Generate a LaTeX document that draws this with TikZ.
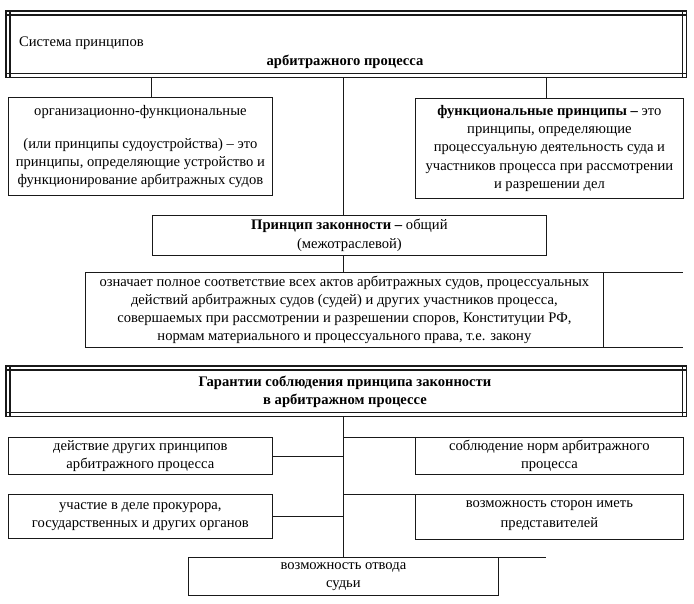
\documentclass[tikz,border=0pt]{standalone}
\usepackage{fontspec}
\setmainfont{Liberation Serif}
\usetikzlibrary{positioning}
\colorlet{InkLine}{black!90}
\colorlet{InkText}{black}
\newcommand{\dblframe}[1]{%
  \draw[outer] (#1.north west) rectangle (#1.south east);
  \draw[inner] ([yshift=-4pt]#1.north west) -- ([yshift=-4pt]#1.north east)
    ([yshift=4pt]#1.south west) -- ([yshift=4pt]#1.south east)
    ([xshift=4pt]#1.north west) -- ([xshift=4pt]#1.south west)
    ([xshift=-4pt]#1.north east) -- ([xshift=-4pt]#1.south east);}
\begin{document}
\begin{tikzpicture}[x=1pt,y=-1pt,
    every node/.style={font=\fontsize{14.6}{18.2}\selectfont,text=InkText},
    box/.style={draw=InkLine,line width=0.8pt,inner sep=0pt,align=center,anchor=north west},
    plain/.style={inner sep=0pt,anchor=north west},
    outer/.style={draw=InkLine,line width=1.7pt},
    inner/.style={draw=InkLine,line width=1.1pt},
    ln/.style={draw=InkLine,line width=0.8pt}
  ]
  \useasboundingbox[fill=white] (0,0) rectangle (694,603);
  \coordinate (c1) at (151,0);
  \coordinate (c2) at (546,0);
  \coordinate (trunk) at (343,0);
  \coordinate (rim) at (683,0);
  \node[plain,minimum width=680pt,minimum height=66pt] (head1) at (6,11) {};
  \dblframe{head1}
  \node[anchor=west,inner sep=0pt] (head1a) at (19,43) {Система принципов};
  \node[inner sep=0pt] (head1b) at (345,62) {\textbf{арбитражного процесса}};
  \node[box,minimum width=264pt,minimum height=98pt] (org) at (8,97)
    {организационно-функциональные\\[15pt](или принципы судоустройства) – это\\принципы, определяющие устройство и\\функционирование арбитражных судов};
  \node[box,minimum width=268pt,minimum height=100pt] (func) at (415,98)
    {\textbf{функциональные принципы –} это\\принципы, определяющие\\процессуальную деятельность суда и\\участников процесса при рассмотрении\\и разрешении дел};
  \node[box,minimum width=394pt,minimum height=40pt] (law) at (152,215)
    {\textbf{Принцип законности –} общий\\(межотраслевой)};
  \node[box,minimum width=518pt,minimum height=75pt] (means) at (85,272)
    {означает полное соответствие всех актов арбитражных судов, процессуальных\\действий арбитражных судов (судей) и других участников процесса,\\совершаемых при рассмотрении и разрешении споров, Конституции РФ,\\нормам материального и процессуального права, т.е. закону};
  \node[plain,minimum width=680pt,minimum height=50pt] (head2) at (6,366) {};
  \dblframe{head2}
  \node[inner sep=0pt,align=center] (head2a) at (345,392)
    {\textbf{Гарантии соблюдения принципа законности}\\\textbf{в арбитражном процессе}};
  \node[box,minimum width=264pt,minimum height=37pt] (other) at (8,437)
    {действие других принципов\\арбитражного процесса};
  \node[box,minimum width=268pt,minimum height=37pt] (norms) at (415,437)
    {соблюдение норм арбитражного\\процесса};
  \node[box,minimum width=264pt,minimum height=44pt] (prosec) at (8,494)
    {участие в деле прокурора,\\государственных и других органов};
  \node[box,minimum width=268pt,minimum height=45pt,text depth=6pt] (repr) at (415,494)
    {возможность сторон иметь\\[2pt]представителей};
  \node[box,minimum width=310pt,minimum height=38pt] (judge) at (188,557)
    {возможность отвода\\судьи};
  \draw[ln] (head1.south -| c1) -- (org.north -| c1);
  \draw[ln] (head1.south -| c2) -- (func.north -| c2);
  \draw[ln] (head1.south -| trunk) -- (law.north -| trunk);
  \draw[ln] (law.south -| trunk) -- (means.north -| trunk);
  \draw[ln] (means.north east) -- (means.north east -| rim);
  \draw[ln] (means.south east) -- (means.south east -| rim);
  \draw[ln] (head2.south -| trunk) -- (judge.north -| trunk);
  \draw[ln] (other.east) -- (other.east -| trunk);
  \draw[ln] (prosec.east) -- (prosec.east -| trunk);
  \draw[ln] (norms.north west) -- (norms.north west -| trunk);
  \draw[ln] (repr.north west) -- (repr.north west -| trunk);
  \draw[ln] (judge.north east) -- (judge.north east -| c2);
\end{tikzpicture}
\end{document}
